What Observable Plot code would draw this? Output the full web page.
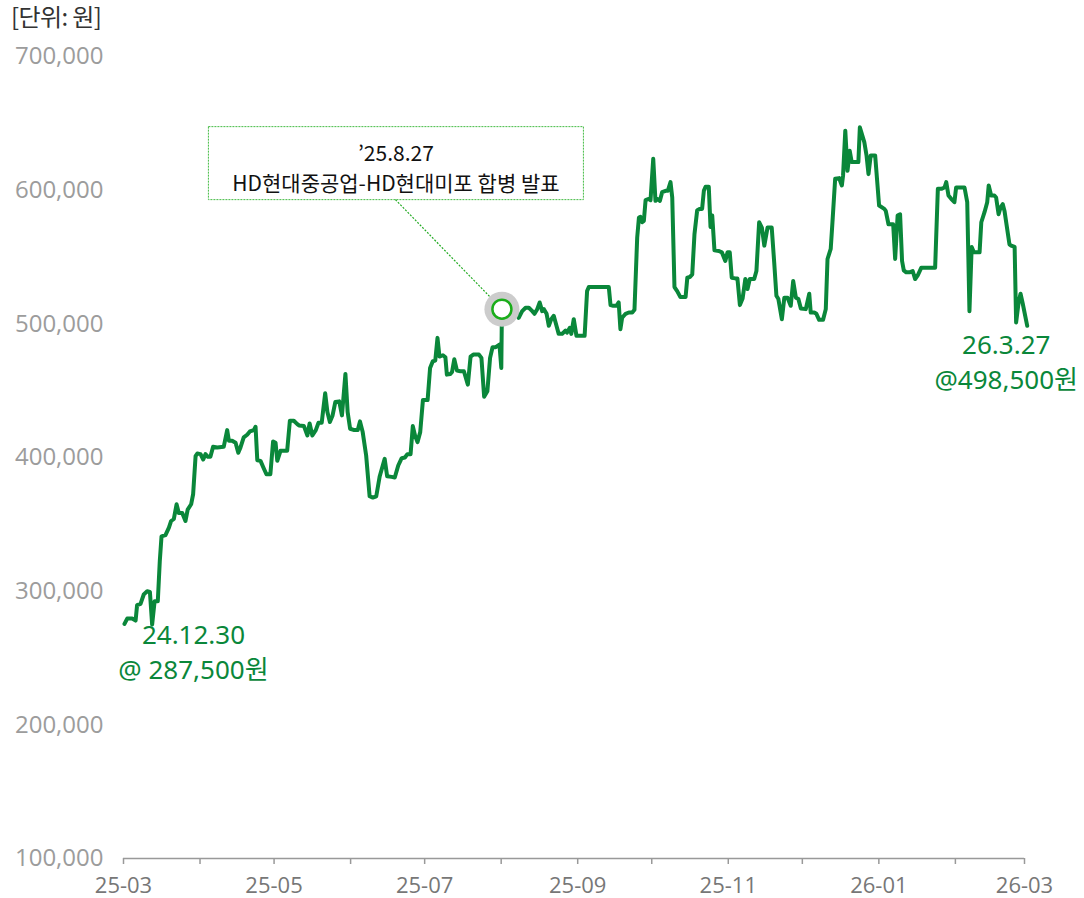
<!DOCTYPE html>
<html><head><meta charset="utf-8">
<script src="https://cdn.jsdelivr.net/npm/d3@7"></script>
<script src="https://cdn.jsdelivr.net/npm/@observablehq/plot@0.6"></script>
<style>
body{margin:0;background:#fff;}
#wrap{position:relative;width:1084px;height:898px;}
#unit{position:absolute;left:11px;top:0px;font-family:"Noto Sans CJK KR",sans-serif;font-size:24px;line-height:32px;color:#333;letter-spacing:-0.6px;}
</style></head><body>
<div id="wrap"><div id="unit">[단위: 원]</div><div id="chart"></div></div>
<script>
// days since 2025-03-01 on the chart's time axis
const days = [0.4,1.5,3.5,4.9,5.5,6.9,8.2,9.6,10.7,11.6,12.6,13.9,14.7,15.4,17.0,18.4,19.3,20.4,21.5,22.4,23.8,25.1,26.0,27.4,28.2,29.2,29.9,31.2,32.3,33.2,34.2,35.2,36.3,38.0,40.6,42.0,42.7,44.0,45.4,46.5,47.4,48.7,50.1,51.2,52.8,53.5,54.2,55.5,56.8,57.9,59.5,60.6,61.6,62.3,63.6,66.3,67.4,69.0,70.4,71.1,73.1,74.5,75.4,76.5,77.9,79.0,80.3,81.7,82.6,83.6,84.7,85.8,87.4,88.5,89.9,90.8,91.8,93.5,94.9,95.8,96.9,98.3,99.7,101.0,102.4,103.8,105.8,106.8,108.6,109.9,111.3,112.7,114.0,115.0,116.3,117.2,118.1,119.1,120.2,121.3,123.2,124.2,125.3,126.3,127.2,128.0,129.4,130.4,131.0,132.4,133.1,134.0,135.1,136.5,137.9,139.5,140.6,141.7,144.0,145.0,146.1,147.4,148.5,149.5,150.8,152.3,153.05,153.3,158.4,160.1,161.5,162.9,164.2,165.6,166.5,167.6,168.6,169.6,170.3,171.4,172.3,173.3,174.3,175.4,176.3,177.7,179.1,179.7,180.8,181.4,182.4,183.5,186.8,187.8,188.5,196.6,197.3,198.4,199.7,200.6,201.3,202.0,203.4,204.7,206.1,207.0,208.1,208.8,209.4,210.1,210.8,211.5,212.8,213.5,214.6,215.5,216.2,217.3,218.2,219.6,220.5,221.6,222.3,223.2,224.3,225.6,227.7,228.4,229.4,230.4,231.3,232.4,233.5,234.4,235.1,235.8,237.1,237.8,238.5,239.4,241.2,242.4,243.8,244.7,245.6,246.4,247.8,248.7,249.7,250.8,251.9,252.8,253.7,255.5,256.4,257.5,258.6,259.6,260.9,262.6,263.6,264.5,265.3,266.7,267.7,269.0,270.3,271.3,272.4,273.4,274.4,276.4,277.8,278.4,279.8,280.7,281.8,283.4,284.5,285.2,286.5,287.2,288.3,289.9,291.0,291.5,292.4,293.3,294.2,295.0,297.7,298.3,300.1,301.0,301.8,302.7,304.5,306.1,308.2,308.8,309.9,311.8,312.6,313.6,314.6,315.4,316.1,317.1,318.4,319.7,320.7,321.8,323.2,328.8,329.9,331.3,332.6,333.3,334.2,335.3,336.6,337.3,340.7,341.8,342.7,343.6,344.5,346.8,347.5,348.8,349.9,350.5,351.5,352.8,353.5,354.5,355.3,356.2,356.9,358.9,359.6,361.0,361.6,362.6,363.4,364.3,366.1];
const prices = [275500,279500,279500,278000,289500,290500,297500,300000,299500,275000,292500,292500,322500,341000,342000,347500,352500,354000,365000,358500,358500,352500,361000,365000,372500,401000,403000,402500,398500,402500,400500,400500,408000,407500,408000,420500,412500,412500,411000,403500,407500,415000,417000,419500,420500,423000,398000,397500,392000,387500,387500,412000,411000,397500,405000,405000,427500,427500,425000,424000,423500,416500,425500,416500,420500,426000,426000,448000,434000,426500,431500,441500,442000,431500,462500,434000,421500,420500,420500,427000,419000,401500,371000,370000,371000,386000,399000,386000,385500,385000,394000,399500,400000,402500,402500,423500,416500,411500,419000,443000,443000,467000,472000,472500,489500,475500,476500,475000,462000,462500,464000,473500,465000,464500,464500,454500,475500,477000,477000,474500,445500,449500,474500,482500,482500,484500,467000,511000,511000,504500,509500,512000,512000,509500,507500,511000,516000,509500,511000,507500,498500,503500,506000,498500,492500,492500,495000,493500,497000,492500,503500,491000,491000,524500,527500,527500,514000,513500,513500,516000,496000,504500,507500,508500,508500,510500,564500,579500,580000,576000,577000,592500,593500,592500,623500,592000,593500,592000,598500,599500,599500,606000,594500,527500,524500,520000,520000,534500,535000,537000,567000,585000,586000,586000,599500,602500,602500,572500,581000,555000,554500,553500,547000,553500,553500,534500,534000,534000,514000,519000,533500,526000,533500,533500,539500,576000,572000,558500,572000,572000,546000,521000,518500,503500,519500,519500,513500,532000,519500,518500,511500,511000,522500,508500,508500,507500,503000,503000,511000,548500,556000,576000,608500,609000,603500,611000,644500,614500,629500,621000,621000,647000,636000,626000,612000,626000,626000,588500,586000,584500,574500,574500,548500,581000,582000,547000,540000,538500,538500,539500,533500,536500,542000,542000,601000,601000,602000,606000,596000,593500,591000,602000,602000,591000,509500,557500,553500,553500,576000,583500,591000,603500,596000,596000,594500,582000,587000,589500,584500,559500,558500,557500,501000,516000,522500,515000,498500];

const yTicks = [100000,200000,300000,400000,500000,600000,700000];
const monthTicks = ["2025-03-01","2025-04-01","2025-05-01","2025-06-01","2025-07-01","2025-08-01","2025-09-01","2025-10-01","2025-11-01","2025-12-01","2026-01-01","2026-02-01","2026-03-01"];
const startDateLabel = "24.12.30";
const startPriceLabel = "@ 287,500원";
const endDateLabel = "26.3.27";
const endPriceLabel = "@498,500원";
const annDay = 153.3;
const annPrice = 511000;
const annText = "’25.8.27\nHD현대중공업-HD현대미포 합병 발표";

const base = Date.UTC(2025, 2, 1);
const toDate = d => new Date(base + d * 864e5);
const data = days.map((d, i) => ({date: toDate(d), price: prices[i]}));
const first = data[0], last = data[data.length - 1];
const ann = {date: toDate(annDay), price: annPrice};
const ticks = monthTicks.map(s => new Date(s + "T00:00:00Z"));
const fmt = d3.utcFormat("%y-%m");

const GREEN = "#0a873a";
const KR = "'Noto Sans CJK KR', sans-serif";
const LBL = "'Noto Sans', 'Noto Sans CJK KR', sans-serif";

function annotationFrame(index, scales) {
  const mx = scales.x(ann.date), my = scales.y(ann.price);
  const g = d3.create("svg:g");
  g.append("rect")
    .attr("x", mx - 293).attr("y", my - 182).attr("width", 375).attr("height", 73)
    .attr("fill", "none").attr("stroke", "#44bb44").attr("stroke-width", 1)
    .attr("stroke-dasharray", "2,1");
  g.append("line")
    .attr("x1", mx - 106).attr("y1", my - 109).attr("x2", mx).attr("y2", my)
    .attr("stroke", "#22aa22").attr("stroke-width", 1.2)
    .attr("stroke-dasharray", "2,1.5");
  return g.node();
}

const chart = Plot.plot({
  width: 1084,
  height: 898,
  marginLeft: 123,
  marginRight: 60,
  marginTop: 56,
  marginBottom: 40,
  style: {fontFamily: "'Open Sans', sans-serif", background: "transparent"},
  x: {type: "utc", domain: [ticks[0], ticks[ticks.length - 1]]},
  y: {domain: [100000, 700000]},
  marks: [
    Plot.axisY({ticks: yTicks, tickSize: 0, tickPadding: 20, tickFormat: d3.format(","), fontSize: 24, fill: "#9c9c9c", label: null}),
    Plot.axisX({ticks: ticks, tickSize: 6, tickPadding: 13, tickFormat: d => d.getUTCMonth() % 2 === 0 ? fmt(d) : "", fontSize: 22, fill: "#777", stroke: "#999", strokeWidth: 1.5, label: null}),
    Plot.ruleY([100000], {stroke: "#999", strokeWidth: 1.5}),
    Plot.line(data, {x: "date", y: "price", stroke: GREEN, strokeWidth: 4, strokeLinejoin: "round"}),
    annotationFrame,
    Plot.dot([ann], {x: "date", y: "price", r: 17.5, fill: "#cccccc"}),
    Plot.dot([ann], {x: "date", y: "price", r: 9.5, fill: "white", stroke: "#1aad1a", strokeWidth: 2.5}),
    Plot.text([ann], {x: "date", y: "price", text: () => annText, dx: -106, dy: -169, lineAnchor: "top", lineHeight: 1.43, fontSize: 21, fill: "#111", fontFamily: KR, letterSpacing: "-1px"}),
    Plot.text([first], {x: "date", y: "price", text: () => startDateLabel, dx: 69, dy: 20, lineAnchor: "bottom", fontSize: 26, fill: GREEN, fontFamily: LBL}),
    Plot.text([first], {x: "date", y: "price", text: () => startPriceLabel, dx: 69, dy: 55, lineAnchor: "bottom", fontSize: 26, fill: GREEN, fontFamily: LBL}),
    Plot.text([last], {x: "date", y: "price", text: () => endDateLabel, dx: -21, dy: 28, lineAnchor: "bottom", fontSize: 26, fill: GREEN, fontFamily: LBL}),
    Plot.text([last], {x: "date", y: "price", text: () => endPriceLabel, dx: -21, dy: 63, lineAnchor: "bottom", fontSize: 26, fill: GREEN, fontFamily: LBL})
  ]
});
document.getElementById("chart").appendChild(chart);
</script>
</body></html>
